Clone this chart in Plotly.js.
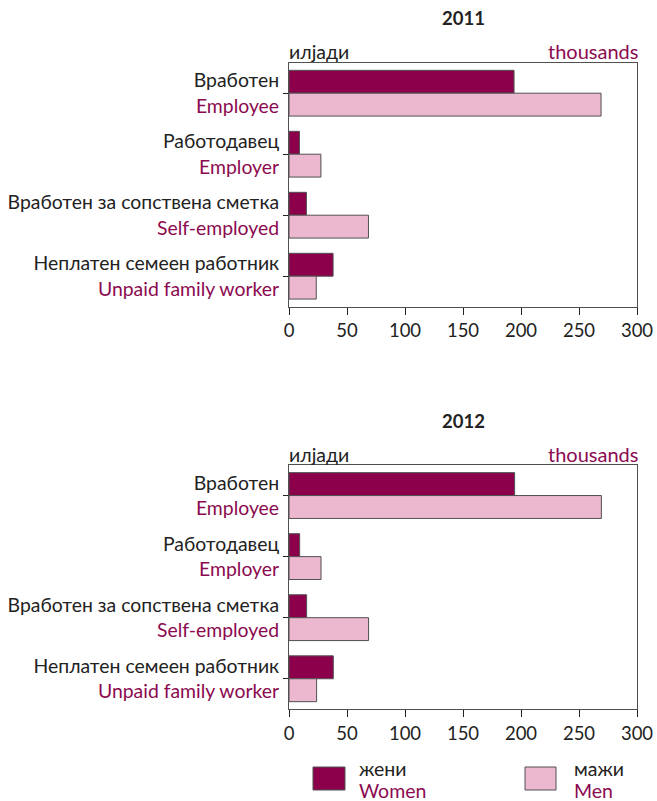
<!DOCTYPE html>
<html><head><meta charset="utf-8">
<script src="https://cdn.plot.ly/plotly-3.0.1.min.js"></script>
<style>body{margin:0;padding:0;background:#fff}#c{width:657px;height:801px}</style>
</head><body><div id="c"></div>
<script>
const catsMk = ["Вработен","Работодавец","Вработен за сопствена сметка","Неплатен семеен работник"];
const catsEn = ["Employee","Employer","Self-employed","Unpaid family worker"];
const women2011 = [194, 9, 15, 38];
const men2011 = [269, 27.5, 68.5, 23.5];
const women2012 = [194.5, 9.2, 15.2, 38.2];
const men2012 = [269.3, 27.6, 68.6, 23.8];
const years = ["2011","2012"];
const xTicks = [0,50,100,150,200,250,300];

const FONT = "Lato, 'Open Sans', sans-serif";
const WCOL = "#8C004B", MCOL = "#ECB8CF", ENCOL = "#8B0A50", LINE = "#505050";
const H = 801;
const py = p => 1 - p / H;

const ticktext = catsMk.map((m,i)=> m + "<br><span style='color:" + ENCOL + "'>" + catsEn[i] + "</span>");

function bars(vals, col, name, xa, ya){
  return {type:"bar", orientation:"h", x: vals, y: catsMk, name, xaxis: xa, yaxis: ya,
    marker:{color: col, line:{color: LINE, width: 1}}, showlegend:false, hoverinfo:"x"};
}
const data = [
  bars(women2011, WCOL, "жени", "x", "y"),
  bars(men2011, MCOL, "мажи", "x", "y"),
  bars(women2012, WCOL, "жени", "x2", "y2"),
  bars(men2012, MCOL, "мажи", "x2", "y2")
];

function xax(anchor){
  return {anchor, range:[0,300], tickvals:xTicks, ticks:"outside", ticklen:7, tickcolor:"#222",
    showline:true, mirror:true, linecolor:LINE, linewidth:1, showgrid:false, zeroline:false,
    tickfont:{family:FONT, size:18.5, color:"#222"}, fixedrange:true, automargin:false};
}
function yax(anchor, dom){
  return {anchor, domain:dom, type:"category", categoryarray:catsMk, range:[3.5,-0.5],
    tickvals:catsMk, ticktext:ticktext, ticks:"outside", ticklen:5, tickcolor:"#222",
    showline:true, mirror:true, linecolor:LINE, linewidth:1, showgrid:false,
    tickfont:{family:FONT, size:19.4, color:"#222"}, automargin:false, fixedrange:true};
}

const ann = [];
function head(txt, yp){
  ann.push({xref:"paper", yref:"paper", x:0.5, y:py(yp), text:"<b>"+txt+"</b>", showarrow:false,
    font:{family:FONT, size:18.5, color:"#222"}, xanchor:"center", yanchor:"middle"});
}
function units(yp){
  ann.push({xref:"paper", yref:"paper", x:0, y:py(yp), text:"илјади", showarrow:false,
    font:{family:FONT, size:19.5, color:"#222"}, xanchor:"left", yanchor:"middle", xshift:-2});
  ann.push({xref:"paper", yref:"paper", x:1, y:py(yp), text:"thousands", showarrow:false,
    font:{family:FONT, size:20, color:ENCOL}, xanchor:"right", yanchor:"middle", xshift:3});
}
head(years[0], 18); units(51);
head(years[1], 421); units(454);

// legend
const L = 289, W = 657 - 289 - 20;
const px = p => (p - L) / W;
const shapes = [
  {type:"rect", xref:"paper", yref:"paper", x0:px(313), x1:px(345), y0:py(790), y1:py(767), fillcolor:WCOL, line:{color:LINE,width:1}},
  {type:"rect", xref:"paper", yref:"paper", x0:px(525), x1:px(556), y0:py(790), y1:py(767), fillcolor:MCOL, line:{color:LINE,width:1}}
];
function leg(xp, mk, en){
  ann.push({xref:"paper", yref:"paper", x:px(xp), y:py(768), text:mk, showarrow:false,
    font:{family:FONT, size:19.5, color:"#222"}, xanchor:"left", yanchor:"middle"});
  ann.push({xref:"paper", yref:"paper", x:px(xp), y:py(790), text:en, showarrow:false,
    font:{family:FONT, size:19.5, color:ENCOL}, xanchor:"left", yanchor:"middle"});
}
leg(357, "жени", "Women");
leg(572, "мажи", "Men");

const layout = {
  width:657, height:801, margin:{l:289, r:20, t:0, b:0, autoexpand:false},
  paper_bgcolor:"#fff", plot_bgcolor:"#fff",
  barmode:"group", bargap:0.25, bargroupgap:0,
  font:{family:FONT, size:18, color:"#222"},
  xaxis: xax("y"), yaxis: yax("x", [py(306.7), py(62.7)]),
  xaxis2: xax("y2"), yaxis2: yax("x2", [py(709.3), py(465)]),
  annotations: ann, shapes: shapes, showlegend:false
};
Plotly.newPlot("c", data, layout, {displayModeBar:false, staticPlot:true});
</script></body></html>
